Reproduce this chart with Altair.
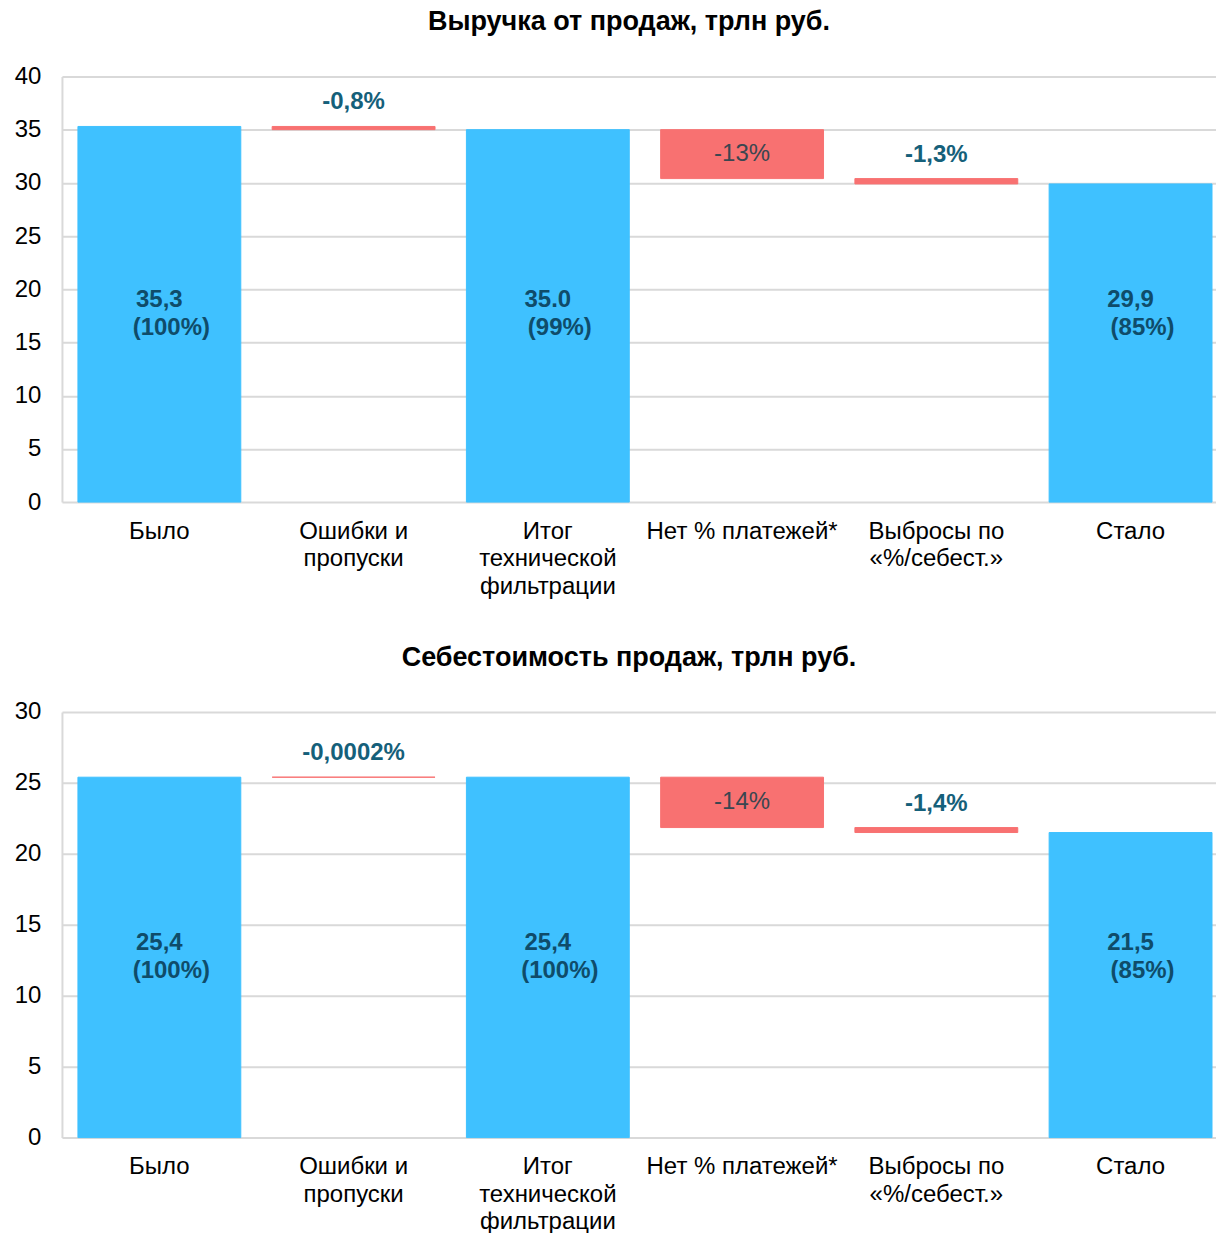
import altair as alt
import pandas as pd

# Categories shared by both waterfall panels ("\n" marks line breaks in axis labels)
categories = [
    "Было",
    "Ошибки и\nпропуски",
    "Итог\nтехнической\nфильтрации",
    "Нет % платежей*",
    "Выбросы по\n«%/себест.»",
    "Стало",
]
kinds = ["total", "delta", "total", "delta", "delta", "total"]

# Revenue, trillion rubles: totals are levels, deltas are changes
revenue_values = [35.3, -0.3, 35.0, -4.6, -0.5, 29.9]
revenue_total_text = ["35,3", "35.0", "29,9"]
revenue_total_share = ["(100%)", "(99%)", "(85%)"]
revenue_delta_text = ["-0,8%", "-13%", "-1,3%"]

# Cost of sales, trillion rubles
cost_values = [25.4, -0.00005, 25.4, -3.55, -0.35, 21.5]
cost_total_text = ["25,4", "25,4", "21,5"]
cost_total_share = ["(100%)", "(100%)", "(85%)"]
cost_delta_text = ["-0,0002%", "-14%", "-1,4%"]

BLUE = "#3fc1ff"
RED = "#f87171"
TEAL = "#15607a"
NAVY = "#0f4c6a"
GRID = "#d9d9d9"
FONT = "Liberation Sans"
INSIDE_CATEGORY = "Нет % платежей*"


def build_frame(values, total_text, total_share, delta_text):
    rows = []
    level = 0.0
    ti = di = 0
    for cat, kind, v in zip(categories, kinds, values):
        if kind == "total":
            lo, hi = 0.0, v
            level = v
            label, share = total_text[ti], total_share[ti]
            ti += 1
        else:
            lo, hi = level + v, level
            level = level + v
            label, share = delta_text[di], ""
            di += 1
        rows.append(dict(cat=cat, kind=kind, lo=lo, hi=hi,
                         mid=(lo + hi) / 2, label=label, share=share))
    df = pd.DataFrame(rows)
    # value labels of the total bars sit at one common level
    df["label_level"] = values[0] / 2
    return df


def panel(df, title, ymax):
    xenc = alt.X(
        "cat:N",
        sort=categories,
        # bands lean to the right edge of the plot
        scale=alt.Scale(paddingInner=0.1615, paddingOuter=0.0514, align=0.8),
        axis=alt.Axis(
            title=None, labelAngle=0, labelFontSize=24, labelFont=FONT,
            labelColor="black", labelLineHeight=27.5, labelBaseline="top",
            labelPadding=17, labelLimit=0, ticks=False, domain=False, grid=False,
            labelExpr="split(datum.label, '\\n')",
        ),
    )
    yscale = alt.Scale(domain=[0, ymax], nice=False)
    base = alt.Chart(df).encode(x=xenc)

    color_scale = alt.Scale(domain=["total", "delta"], range=[BLUE, RED])
    bars = base.mark_bar(strokeWidth=1).encode(
        y=alt.Y(
            "lo:Q", scale=yscale,
            axis=alt.Axis(
                title=None, values=list(range(0, ymax + 1, 5)), labelFontSize=24,
                labelFont=FONT, labelColor="black", labelPadding=21, ticks=False,
                domain=True, domainColor=GRID, domainWidth=2,
                gridColor=GRID, gridWidth=2,
            ),
        ),
        y2="hi:Q",
        color=alt.Color("kind:N", scale=color_scale, legend=None),
        stroke=alt.Stroke("kind:N", scale=color_scale, legend=None),
    )

    totals = base.transform_filter(alt.datum.kind == "total")
    total_line1 = totals.mark_text(
        font=FONT, fontSize=24, fontWeight="bold", color=NAVY,
        baseline="middle", dy=-14,
    ).encode(y=alt.Y("label_level:Q", scale=yscale), text="label:N")
    total_line2 = totals.mark_text(
        font=FONT, fontSize=24, fontWeight="bold", color=NAVY,
        baseline="middle", dy=14, dx=12,
    ).encode(y=alt.Y("label_level:Q", scale=yscale), text="share:N")

    above = base.transform_filter(
        (alt.datum.kind == "delta") & (alt.datum.cat != INSIDE_CATEGORY)
    ).mark_text(
        font=FONT, fontSize=24, fontWeight="bold", color=TEAL,
        baseline="middle", dy=-24,
    ).encode(y=alt.Y("hi:Q", scale=yscale), text="label:N")

    inside = base.transform_filter(
        alt.datum.cat == INSIDE_CATEGORY
    ).mark_text(
        font=FONT, fontSize=24, color="#3b4650", baseline="middle",
    ).encode(y=alt.Y("mid:Q", scale=yscale), text="label:N")

    return alt.layer(bars, total_line1, total_line2, above, inside).properties(
        width=1155,
        height=426,
        title=alt.TitleParams(
            title, fontSize=27, fontWeight="bold", font=FONT, color="black",
            anchor="middle", dx=-10, offset=28,
        ),
    )


revenue = build_frame(revenue_values, revenue_total_text, revenue_total_share, revenue_delta_text)
cost = build_frame(cost_values, cost_total_text, cost_total_share, cost_delta_text)

chart = alt.vconcat(
    panel(revenue, "Выручка от продаж, трлн руб.", 40),
    panel(cost, "Себестоимость продаж, трлн руб.", 30),
    spacing=46,
).properties(
    padding={"left": 14, "top": 8, "right": 0, "bottom": 0},
).configure_view(stroke=None)

chart.save("out.html", embed_options={"renderer": "svg", "actions": False})
